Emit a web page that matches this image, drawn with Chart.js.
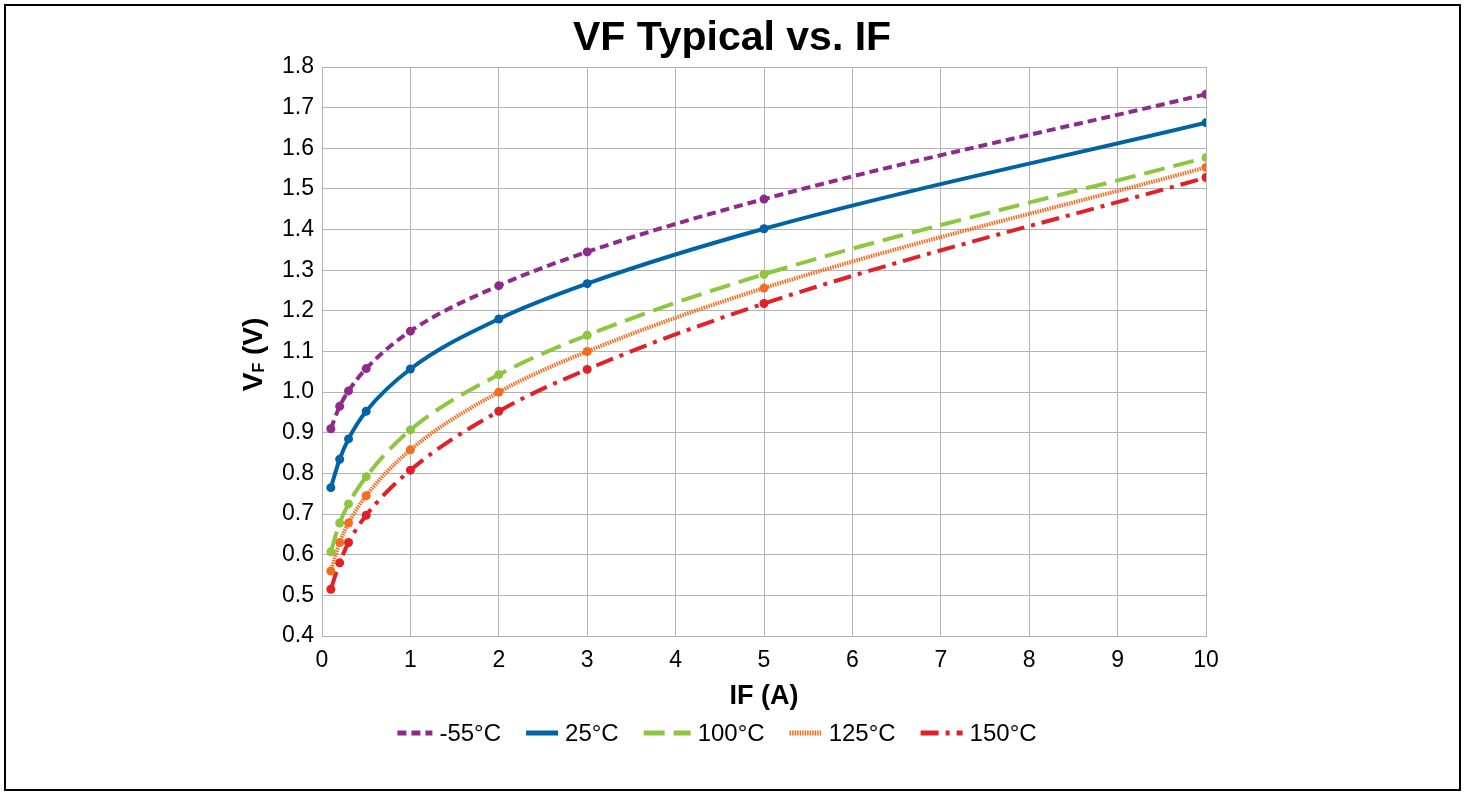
<!DOCTYPE html>
<html>
<head>
<meta charset="utf-8">
<script src="https://cdn.jsdelivr.net/npm/chart.js@4/dist/chart.umd.min.js"></script>
<style>
  html, body { margin: 0; padding: 0; background: #fff; }
  #wrap { width: 1465px; height: 795px; }
</style>
</head>
<body>
<div id="wrap"><canvas id="vfChart"></canvas></div>
<script>
// forward current, A
const currents = [0.1, 0.2, 0.3, 0.5, 1, 2, 3, 5, 10];
const temps = ["-55°C", "25°C", "100°C", "125°C", "150°C"];
// typical forward voltage, V
const vfMinus55 = [0.910, 0.965, 1.003, 1.058, 1.150, 1.262, 1.345, 1.475, 1.733];
const vf25 = [0.765, 0.835, 0.885, 0.953, 1.057, 1.180, 1.267, 1.402, 1.663];
const vf100 = [0.607, 0.678, 0.725, 0.792, 0.907, 1.043, 1.140, 1.290, 1.577];
const vf125 = [0.560, 0.630, 0.678, 0.745, 0.858, 1.000, 1.100, 1.256, 1.553];
const vf150 = [0.515, 0.580, 0.630, 0.697, 0.808, 0.953, 1.056, 1.218, 1.528];

const FONT = "'Liberation Sans', Arial, sans-serif";

function series(label, vals, color, dash, width, legendLen) {
  return {
    label,
    data: currents.map((x, i) => ({ x, y: vals[i] })),
    borderColor: color,
    backgroundColor: color,
    borderWidth: width,
    borderDash: dash,
    pointRadius: 4.5,
    pointHoverRadius: 4.5,
    pointBorderWidth: 0,
    cubicInterpolationMode: "monotone",
    fill: false,
    legendLen
  };
}

const datasets = [
  series(temps[0], vfMinus55, "#8e2b8a", [9, 5], 4, 35),
  series(temps[1], vf25, "#0063a6", [], 4, 32),
  series(temps[2], vf100, "#8dc63f", [21, 9], 4, 47),
  series(temps[3], vf125, "#f26d21", [1.5, 1], 4, 32),
  series(temps[4], vf150, "#e02127", [18, 7, 4, 7], 4, 42)
];

// frame, title, y-axis title (with subscript) and legend
const decorations = {
  id: "decorations",
  afterDraw(chart) {
    const ctx = chart.ctx;
    ctx.save();
    ctx.strokeStyle = "#000";
    ctx.lineWidth = 2;
    ctx.strokeRect(5, 5, 1455, 785);

    ctx.fillStyle = "#000";
    ctx.textBaseline = "alphabetic";
    ctx.textAlign = "center";
    ctx.font = "bold 41px " + FONT;
    ctx.fillText("VF Typical vs. IF", 732, 50);

    // legend
    ctx.font = "24px " + FONT;
    ctx.textAlign = "left";
    ctx.textBaseline = "middle";
    const gapIn = 7, gapOut = 25;
    let total = 0;
    chart.data.datasets.forEach((ds, i) => {
      total += ds.legendLen + gapIn + ctx.measureText(ds.label).width;
      if (i) total += gapOut;
    });
    let x = 717 - total / 2;
    const ly = 733;
    chart.data.datasets.forEach(ds => {
      ctx.save();
      ctx.strokeStyle = ds.borderColor;
      ctx.lineWidth = 5;
      ctx.setLineDash(ds.borderDash);
      ctx.beginPath();
      ctx.moveTo(x, ly);
      ctx.lineTo(x + ds.legendLen, ly);
      ctx.stroke();
      ctx.restore();
      x += ds.legendLen + gapIn;
      ctx.fillText(ds.label, x, ly + 1);
      x += ctx.measureText(ds.label).width + gapOut;
    });

    // y axis title
    const cy = (chart.chartArea.top + chart.chartArea.bottom) / 2 + 3;
    ctx.translate(262, cy);
    ctx.rotate(-Math.PI / 2);
    ctx.textBaseline = "alphabetic";
    const big = "bold 28px " + FONT;
    const small = "bold 16px " + FONT;
    ctx.font = big;
    const w1 = ctx.measureText("V").width;
    const w3 = ctx.measureText(" (V)").width;
    ctx.font = small;
    const w2 = ctx.measureText("F").width;
    let tx = -(w1 + w2 + w3) / 2;
    ctx.font = big;
    ctx.fillText("V", tx, 0);
    tx += w1;
    ctx.font = small;
    ctx.fillText("F", tx, 2);
    tx += w2;
    ctx.font = big;
    ctx.fillText(" (V)", tx, 0);
    ctx.restore();
  }
};

new Chart(document.getElementById("vfChart"), {
  type: "line",
  data: { datasets },
  plugins: [decorations],
  options: {
    responsive: true,
    maintainAspectRatio: false,
    animation: false,
    layout: { padding: { left: 0, right: 259, top: 67, bottom: 82 } },
    plugins: {
      tooltip: { enabled: false },
      title: { display: false },
      legend: { display: false }
    },
    scales: {
      x: {
        type: "linear",
        min: 0,
        max: 10,
        afterFit(scale) { scale.height = 77; },
        ticks: {
          stepSize: 1,
          color: "#000",
          font: { family: FONT, size: 23 },
          padding: 11
        },
        grid: { color: "#b3b3b3", lineWidth: 1, drawTicks: false },
        border: { color: "#b3b3b3" },
        title: {
          display: true,
          text: "IF (A)",
          color: "#000",
          font: { family: FONT, size: 27, weight: "bold" },
          padding: { top: 0, bottom: 0 }
        }
      },
      y: {
        type: "linear",
        min: 0.4,
        max: 1.8,
        afterFit(scale) { scale.width = 322; },
        ticks: {
          stepSize: 0.1,
          color: "#000",
          font: { family: FONT, size: 23 },
          padding: 8,
          callback: v => v.toFixed(1)
        },
        grid: { color: "#b3b3b3", lineWidth: 1, drawTicks: false },
        border: { color: "#b3b3b3" }
      }
    }
  }
});
</script>
</body>
</html>
